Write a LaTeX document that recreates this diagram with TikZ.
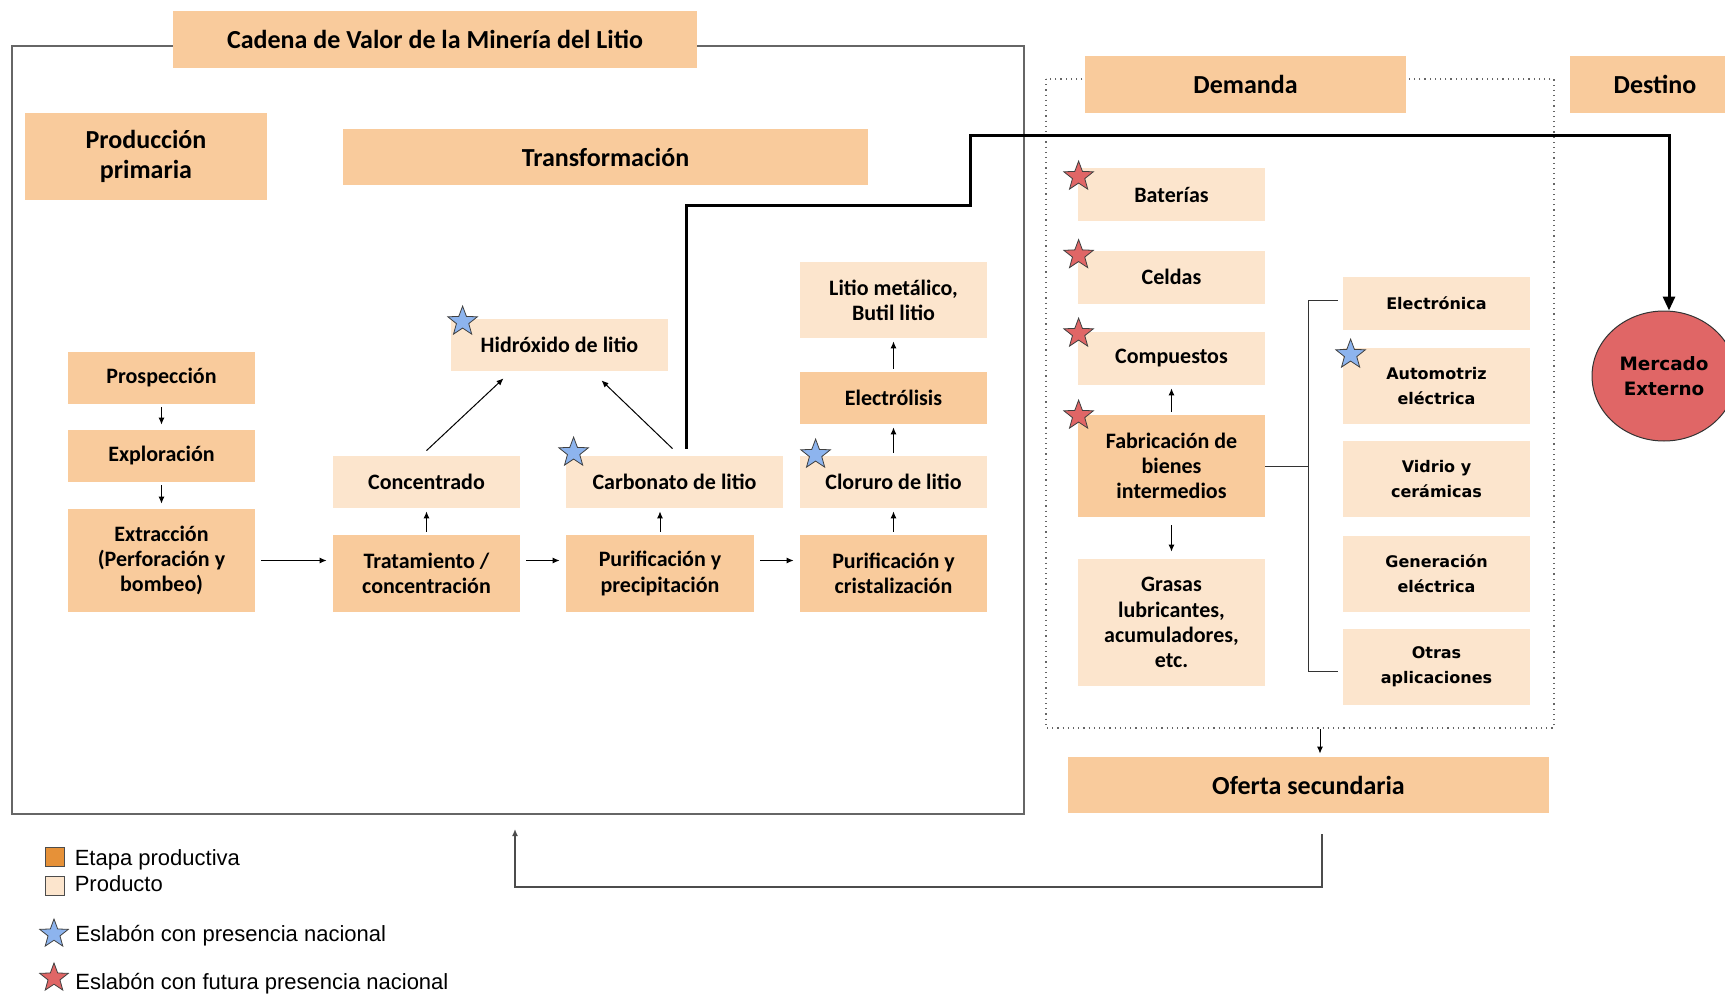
\documentclass[tikz,border=0pt]{standalone}
\usepackage{fontspec}
\setmainfont{Carlito}
\newfontfamily\verdanafont{DejaVu Sans}
\newfontfamily\arialfont{Liberation Sans}
\usepackage{tikz}
\usetikzlibrary{shapes.geometric, arrows.meta, positioning}

\definecolor{etapacolor}{RGB}{249,203,156}
\definecolor{productocolor}{RGB}{252,229,205}
\definecolor{leyendaetapa}{RGB}{230,145,56}
\definecolor{azulestrella}{RGB}{141,180,238}
\definecolor{rojoestrella}{RGB}{224,102,102}

\tikzset{
    etapa/.style={rectangle, fill=etapacolor, inner sep=0pt, align=center, minimum width=93.5pt, minimum height=26pt, font=\bfseries\fontsize{11}{12.6}\selectfont},
    producto/.style={etapa, fill=productocolor},
    encabezado/.style={etapa, font=\bfseries\fontsize{13}{15}\selectfont},
    aplicacion/.style={producto, font=\verdanafont\bfseries\fontsize{8}{12.6}\selectfont},
    flecha/.style={-{Latex[length=3.5pt,width=3pt]}, line width=0.5pt},
    estrella/.style={star, star points=5, star point ratio=2.4, draw=black!75, line width=0.4pt, minimum size=15.5pt, inner sep=0pt},
    leyendatexto/.style={inner sep=0pt, font=\arialfont\fontsize{11}{13}\selectfont}
}

\begin{document}
\begin{tikzpicture}[x=0.5pt, y=-0.5pt]
    \useasboundingbox (0,0) rectangle (1725,995);

    % Draw the frames
    \draw[black!60, line width=0.75pt] (12,46) rectangle (1024,814);
    \draw[black!60, dotted, line width=0.6pt] (1046,79) rectangle (1554,728);

    % Headers
    \node[encabezado, minimum width=262pt, minimum height=28.5pt] (titulo) at (435,39.5) {Cadena de Valor de la Minería del Litio};
    \node[encabezado, minimum width=121pt, minimum height=43.5pt] (prodprim) at (146,156.5) {Producción\\primaria};
    \node[encabezado, minimum width=262.5pt, minimum height=28pt] (transf) at (605.5,157) {Transformación};
    \node[encabezado, minimum width=160.5pt, minimum height=28.5pt] (demanda) at (1245.5,84.5) {Demanda};
    \node[encabezado, minimum width=85pt, minimum height=28.5pt] (destino) at (1655,84.5) {Destino};
    \node[encabezado, minimum width=240.5pt, minimum height=28pt] (oferta) at (1308.5,785) {Oferta secundaria};

    % Primary production
    \node[etapa] (prosp) at (161.5,378) {Prospección};
    \node[etapa] (explo) at (161.5,456) {Exploración};
    \node[etapa, minimum height=51.5pt] (extrac) at (161.5,560.5) {Extracción\\(Perforación y\\bombeo)};

    % Transformation
    \node[etapa, minimum height=38.5pt] (trat) at (426.5,573.5) {Tratamiento /\\concentración};
    \node[producto] (conc) at (426.5,482) {Concentrado};
    \node[etapa, minimum width=94pt, minimum height=38.5pt] (purprec) at (660,573.5) {Purificación y\\precipitación};
    \node[producto, minimum width=108.5pt] (carb) at (674.5,482) {Carbonato de litio};
    \node[producto, minimum width=108.5pt] (hidrox) at (559.5,345) {Hidróxido de litio};
    \node[etapa, minimum height=38.5pt] (purcrist) at (893.5,573.5) {Purificación y\\cristalización};
    \node[producto] (clor) at (893.5,482) {Cloruro de litio};
    \node[etapa] (electr) at (893.5,398) {Electrólisis};
    \node[producto, minimum height=38pt] (litmet) at (893.5,300) {Litio metálico,\\Butil litio};

    % Demand
    \node[producto, minimum height=26.5pt] (bat) at (1171.5,194.5) {Baterías};
    \node[producto, minimum height=26.5pt] (celd) at (1171.5,277) {Celdas};
    \node[producto, minimum height=26.5pt] (comp) at (1171.5,358.5) {Compuestos};
    \node[etapa, minimum height=51pt] (fabr) at (1171.5,466) {Fabricación de\\bienes\\intermedios};
    \node[producto, minimum height=63.5pt] (gras) at (1171.5,622.5) {Grasas\\lubricantes,\\acumuladores,\\etc.};

    \node[aplicacion, minimum height=26.5pt] (elec) at (1436.5,303.5) {Electrónica};
    \node[aplicacion, minimum height=38pt] (auto) at (1436.5,386) {Automotriz\\eléctrica};
    \node[aplicacion, minimum height=38pt] (vidr) at (1436.5,479) {Vidrio y\\cerámicas};
    \node[aplicacion, minimum height=38pt] (gener) at (1436.5,574) {Generación\\eléctrica};
    \node[aplicacion, minimum height=38pt] (otras) at (1436.5,667) {Otras\\aplicaciones};

    % Destination
    \node[ellipse, draw=black!80, line width=0.5pt, fill=rojoestrella, minimum width=72pt, minimum height=65pt, inner sep=0pt, align=center, font=\verdanafont\bfseries\fontsize{9.2}{12.5}\selectfont] (merc) at (1664,376) {Mercado\\Externo};

    % Arrows of the chain
    \draw[flecha, shorten <=1.5pt, shorten >=2.5pt] (prosp) -- (explo);
    \draw[flecha, shorten <=1.5pt, shorten >=2.5pt] (explo) -- (extrac);
    \draw[flecha, shorten <=3pt, shorten >=3pt] (extrac.east) -- (extrac.east -| trat.west);
    \draw[flecha, shorten <=3pt, shorten >=3pt] (trat.east |- extrac.east) -- (purprec.west |- extrac.east);
    \draw[flecha, shorten <=3pt, shorten >=3pt] (purprec.east |- extrac.east) -- (purcrist.west |- extrac.east);
    \draw[flecha, shorten <=1.5pt, shorten >=1.5pt] (trat) -- (conc);
    \draw[flecha, shorten <=1.5pt, shorten >=1.5pt] (purprec.north) -- (purprec.north |- carb.south);
    \draw[flecha, shorten <=1.5pt, shorten >=1.5pt] (purcrist) -- (clor);
    \draw[flecha, shorten <=1.5pt, shorten >=1.5pt] (clor) -- (electr);
    \draw[flecha, shorten <=1.5pt, shorten >=1.5pt] (electr) -- (litmet);
    \draw[flecha] ([yshift=2.5pt]conc.north) -- ([xshift=-28pt,yshift=-3.5pt]hidrox.south);
    \draw[flecha] ([xshift=-1pt,yshift=3.5pt]carb.north) -- ([xshift=21pt,yshift=-4.5pt]hidrox.south);

    % Export line
    \coordinate (codo1) at (970,205);
    \coordinate (codo2) at (970,136);
    \draw[line width=1.5pt, -{Triangle[length=7pt,width=6pt]}] ([xshift=5.75pt,yshift=3.5pt]carb.north) |- (codo1) -- (codo2) -| ([xshift=2.5pt]merc.north);

    % Demand links
    \draw[flecha, shorten <=1.5pt, shorten >=1.5pt] (fabr) -- (comp);
    \draw[flecha, shorten <=4pt, shorten >=3.5pt] (fabr) -- (gras);
    \coordinate (llave) at (1308,466);
    \draw[black!80, line width=0.5pt] (fabr.east) -- (llave);
    \draw[black!80, line width=0.5pt] ([xshift=-2.5pt,yshift=1.5pt]elec.west) -| (llave) |- ([xshift=-2.5pt,yshift=-2pt]otras.west);

    % Secondary supply and return
    \coordinate (demsur) at (1320,729);
    \draw[flecha, shorten >=1.5pt] (demsur) -- (demsur |- oferta.north);
    \coordinate (retorno) at (515,887);
    \coordinate (marcosur) at (515,829);
    \draw[black!70, line width=0.75pt, -{Latex[length=3.5pt,width=3pt]}] ([xshift=6.75pt,yshift=-10.5pt]oferta.south) |- (retorno) -- (marcosur);

    % Stars
    \foreach \caja/\dx/\dy in {hidrox/6/-1.5, carb/4/1.5, clor/8/0.5, auto/4/-3.5}
        \node[estrella, fill=azulestrella] at ([xshift=\dx pt, yshift=\dy pt]\caja.north west) {};
    \foreach \caja/\dy in {bat/-4.5, celd/-2.5, comp/-1, fabr/-0.5}
        \node[estrella, fill=rojoestrella] at ([xshift=0.5pt, yshift=\dy pt]\caja.north west) {};

    % Legend
    \node[draw=black!70, fill=leyendaetapa, minimum size=9.5pt, inner sep=0pt] (leyetapa) at (54.5,856.5) {};
    \node[leyendatexto, right=5pt of leyetapa, yshift=-1.5pt] (txtetapa) {Etapa productiva};
    \node[draw=black!70, fill=productocolor, minimum size=9.5pt, inner sep=0pt] (leyprod) at (54.5,886) {};
    \node[leyendatexto, right=5pt of leyprod, yshift=1pt] (txtprod) {Producto};
    \node[estrella, fill=azulestrella, minimum size=15pt] (leyazul) at (54,934) {};
    \node[leyendatexto, right=10.5pt of leyazul.center, yshift=-1pt] (txtazul) {Eslabón con presencia nacional};
    \node[estrella, fill=rojoestrella, minimum size=15pt] (leyrojo) at (54,978) {};
    \node[leyendatexto, right=10.5pt of leyrojo.center, yshift=-3pt] (txtrojo) {Eslabón con futura presencia nacional};

\end{tikzpicture}
\end{document}
